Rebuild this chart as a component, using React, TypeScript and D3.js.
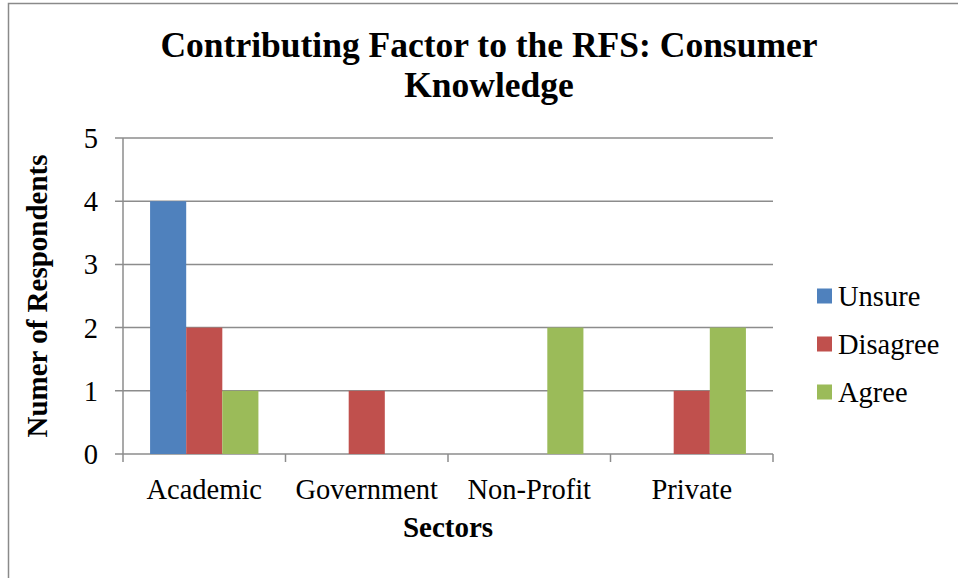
import React from 'react';
import * as d3 from 'd3';

// --- chart data ---
const sectors = ['Academic', 'Government', 'Non-Profit', 'Private'];
const seriesNames = ['Unsure', 'Disagree', 'Agree'];
const unsure = [4, 0, 0, 0];
const disagree = [2, 1, 0, 1];
const agree = [1, 0, 2, 2];
const yTicks = [0, 1, 2, 3, 4, 5];
const seriesColors = ['#4F81BD', '#C0504D', '#9BBB59'];

const W = 958;
const H = 578;
const plot = { left: 123, right: 773, top: 138, bottom: 454 };
const font = '"Liberation Serif", "Times New Roman", serif';

const App: React.FC = () => {
    const values = [unsure, disagree, agree];

    const x = d3.scaleBand<string>()
        .domain(sectors)
        .range([plot.left, plot.right])
        .paddingInner(0)
        .paddingOuter(0);

    // Excel-style gap width 150%
    const xInner = d3.scaleBand<string>()
        .domain(seriesNames)
        .range([0, x.bandwidth()])
        .paddingInner(0)
        .paddingOuter(0.75);

    const y = d3.scaleLinear().domain([0, 5]).range([plot.bottom, plot.top]);

    const boundaries = [...sectors.map(s => x(s) as number), plot.right];
    const gridColor = '#8c8c8c';

    return (
        <svg width={W} height={H} style={{ position: 'absolute', left: 0, top: 0, background: '#fff' }}>
            <rect x={8.5} y={3.5} width={W + 10} height={H + 10} fill="#fff" stroke="#8a8a8a" strokeWidth={1.5} />

            {/* title */}
            <text x={489} y={57} textAnchor="middle" fontFamily={font} fontWeight="bold" fontSize={35.5} fill="#000">
                Contributing Factor to the RFS: Consumer
            </text>
            <text x={489} y={97} textAnchor="middle" fontFamily={font} fontWeight="bold" fontSize={35.5} fill="#000">
                Knowledge
            </text>

            {/* gridlines + y ticks */}
            {yTicks.map(t => (
                <g key={t}>
                    <line x1={115} x2={plot.right} y1={y(t)} y2={y(t)} stroke={gridColor} strokeWidth={1.5} />
                    <text x={98} y={y(t) + 10} textAnchor="end" fontFamily={font} fontSize={28.5} fill="#000">{t}</text>
                </g>
            ))}
            <line x1={plot.left} x2={plot.left} y1={plot.top} y2={plot.bottom} stroke={gridColor} strokeWidth={1.5} />

            {/* x category ticks */}
            {boundaries.map((bx, i) => (
                <line key={i} x1={bx} x2={bx} y1={plot.bottom} y2={plot.bottom + 8} stroke={gridColor} strokeWidth={1.5} />
            ))}

            {/* bars */}
            {sectors.map((s, i) => (
                <g key={s} transform={`translate(${x(s)},0)`}>
                    {seriesNames.map((name, j) => {
                        const v = values[j][i];
                        if (!v) return null;
                        return (
                            <rect key={name}
                                x={xInner(name)}
                                y={y(v)}
                                width={xInner.bandwidth()}
                                height={y(0) - y(v)}
                                fill={seriesColors[j]} />
                        );
                    })}
                </g>
            ))}

            {/* category labels */}
            {sectors.map(s => (
                <text key={s} x={(x(s) as number) + x.bandwidth() / 2} y={499} textAnchor="middle"
                    fontFamily={font} fontSize={28.5} fill="#000">{s}</text>
            ))}

            {/* axis titles */}
            <text x={448} y={537} textAnchor="middle" fontFamily={font} fontWeight="bold" fontSize={29} fill="#000">Sectors</text>
            <text transform={`translate(47,296) rotate(-90)`} textAnchor="middle" fontFamily={font} fontWeight="bold" fontSize={29} fill="#000">
                Numer of Respondents
            </text>

            {/* legend */}
            {seriesNames.map((name, j) => {
                const cy = 296 + j * 48;
                return (
                    <g key={name}>
                        <rect x={817} y={cy - 7.5} width={15} height={15} fill={seriesColors[j]} />
                        <text x={838} y={cy + 10} fontFamily={font} fontSize={28.5} fill="#000">{name}</text>
                    </g>
                );
            })}
        </svg>
    );
};

export default App;
